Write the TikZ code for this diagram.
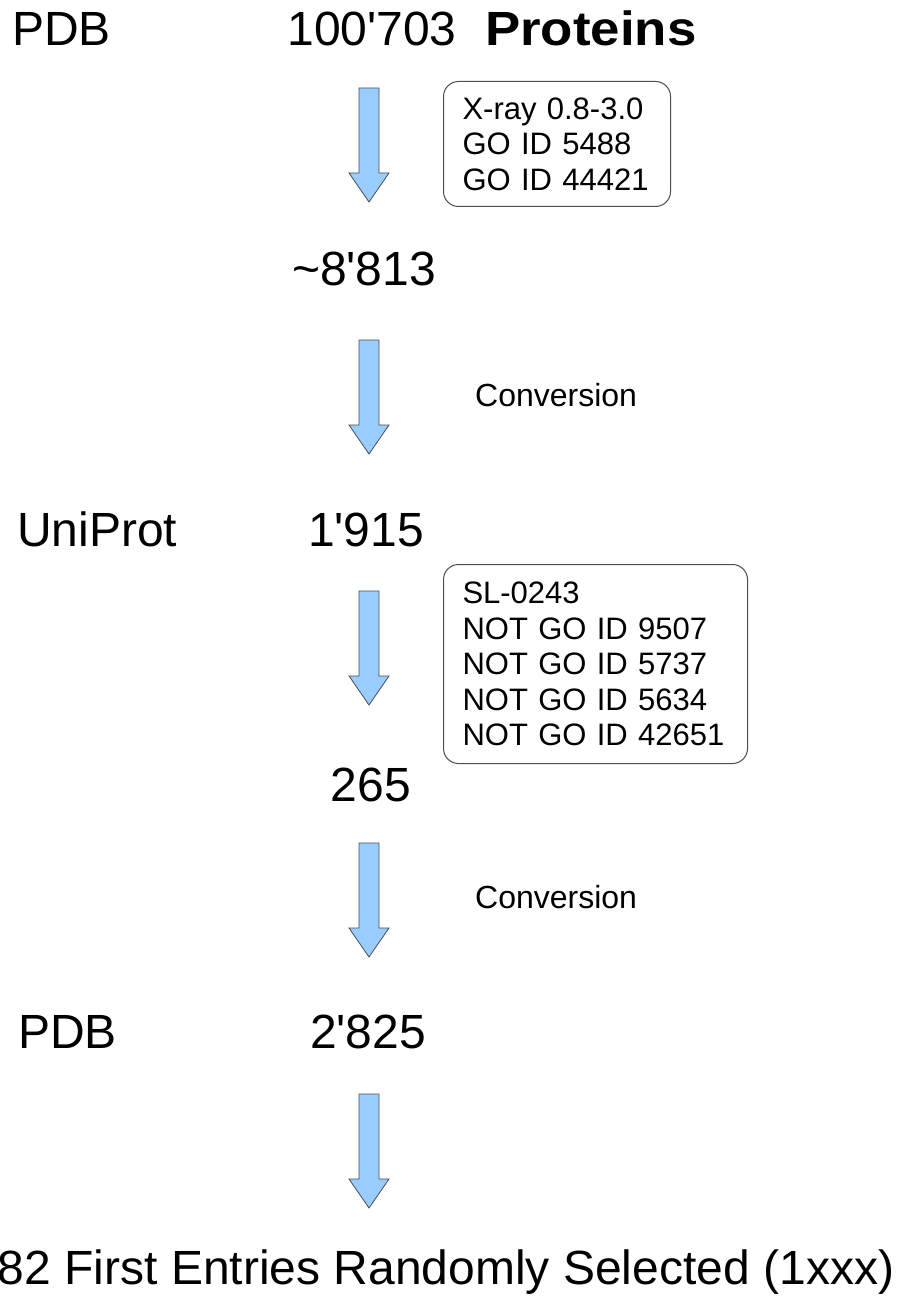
\documentclass[tikz,border=0pt]{standalone}
\usepackage{fontspec}
\usepackage{graphicx}
\setmainfont{Liberation Sans}
\newfontfamily\plainsans{Liberation Sans}
\definecolor{arrowfill}{HTML}{99CCFF}
\definecolor{arrowline}{HTML}{4D4D4D}
\begin{document}
\begin{tikzpicture}[x=1pt,y=-1pt,
  big/.style={font=\plainsans\fontsize{48}{57}\selectfont, inner sep=0pt},
  small/.style={font=\plainsans\fontsize{32}{38}\selectfont, inner sep=0pt},
  filterbox/.style={draw=arrowline, line width=1pt, rounded corners=15pt, anchor=north west,
    font=\plainsans\fontsize{31}{35.5}\selectfont, align=left, inner xsep=19pt, inner ysep=0pt},
  blockarrow/.pic={
    \filldraw[fill=arrowfill, draw=arrowline, line width=0.8pt, line join=miter]
      (-10,0) -- (10,0) -- (10,85) -- (20,85) -- (0,114) -- (-20,85) -- (-10,85) -- cycle;
  }]
\useasboundingbox (0,0) rectangle (897,1305);
\fill[white] (0,0) rectangle (897,1305);

% row 1
\node[big, anchor=base west] (pdb1) at (12,46) {PDB};
\node[big, anchor=base] (n1) at (372,46) {100'703};
\node[big, anchor=base west] (prot) at (485,46) {\scalebox{1.1}[1]{\bfseries Proteins}};
\pic at (369,88) {blockarrow};
\node[filterbox, minimum width=227pt, minimum height=125pt, text width=189pt] (box1) at (443,81)
  {X-ray 0.8-3.0\\GO ID 5488\\GO ID 44421};

% row 2
\node[big, anchor=base] (n2) at (364,286) {\char`~8'813};
\pic at (369,340) {blockarrow};
\node[small, anchor=west] (conv1) at (475,395) {Conversion};

% row 3
\node[big, anchor=base west] (uni) at (17,546) {UniProt};
\node[big, anchor=base] (n3) at (366,546) {1'915};
\pic at (369,591) {blockarrow};
\node[filterbox, minimum width=304pt, minimum height=199pt, text width=266pt] (box2) at (443,564)
  {SL-0243\\NOT GO ID 9507\\NOT GO ID 5737\\NOT GO ID 5634\\NOT GO ID 42651};

% row 4
\node[big, anchor=base] (n4) at (371,801) {265};
\pic at (369,843) {blockarrow};
\node[small, anchor=west] (conv2) at (475,897) {Conversion};

% row 5
\node[big, anchor=base west] (pdb2) at (18,1048) {PDB};
\node[big, anchor=base] (n5) at (368,1048) {2'825};
\pic at (369,1094) {blockarrow};

% bottom
\node[big, anchor=base] (final) at (446,1284) {82 First Entries Randomly Selected (1xxx)};
\end{tikzpicture}
\end{document}
